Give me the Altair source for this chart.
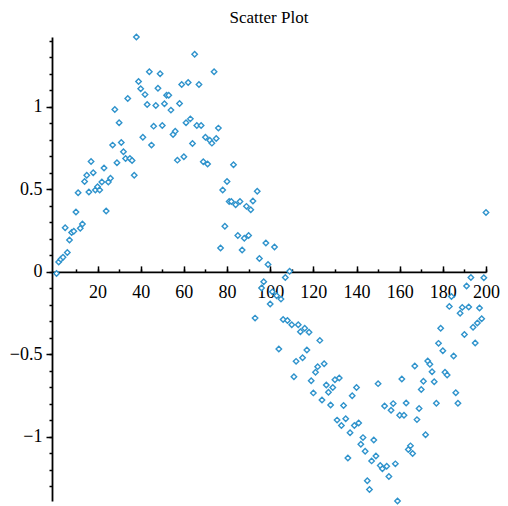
import altair as alt
import pandas as pd

# x positions (index of each sample)
x_idx = list(range(1, 201))

# y values
y_vals = [
    -0.01, 0.06, 0.077, 0.089, 0.268, 0.117, 0.193, 0.238, 0.246, 0.363,
    0.48, 0.264, 0.29, 0.548, 0.585, 0.484, 0.669, 0.6, 0.496, 0.516,
    0.496, 0.544, 0.629, 0.369, 0.544, 0.567, 0.768, 0.984, 0.661, 0.903,
    0.784, 0.728, 0.687, 1.05, 0.687, 0.675, 0.585, 1.423, 1.153, 1.109,
    0.816, 1.074, 1.014, 1.213, 0.768, 0.883, 1.008, 1.112, 1.2, 0.887,
    1.018, 1.07, 1.07, 0.98, 0.832, 0.852, 0.677, 1.02, 1.135, 0.698,
    0.903, 1.147, 0.927, 0.778, 1.318, 0.887, 1.135, 0.887, 0.667, 0.816,
    0.653, 0.798, 0.78, 1.213, 0.808, 0.871, 0.145, 0.496, 0.276, 0.548,
    0.426, 0.426, 0.649, 0.407, 0.22, 0.427, 0.133, 0.204, 0.397, 0.22,
    0.377, 0.429, -0.28, 0.488, 0.081, -0.097, -0.06, 0.175, 0.045, -0.195,
    -0.121, 0.151, -0.145, -0.467, -0.165, -0.288, -0.034, -0.294, 0.004, -0.32,
    -0.635, -0.542, -0.32, -0.363, -0.52, -0.342, -0.473, -0.366, -0.659, -0.733,
    -0.608, -0.574, -0.415, -0.776, -0.556, -0.685, -0.729, -0.806, -0.701, -0.653,
    -0.898, -0.643, -0.931, -0.81, -0.89, -1.128, -0.975, -0.75, -0.931, -0.701,
    -0.915, -1.044, -1.004, -1.086, -1.265, -1.318, -1.145, -1.018, -1.116, -0.677,
    -1.173, -1.193, -0.812, -1.177, -1.239, -0.838, -0.798, -1.163, -1.388, -0.868,
    -0.649, -0.868, -0.794, -1.076, -1.054, -1.1, -0.57, -0.895, -0.828, -0.713,
    -0.663, -0.987, -0.54, -0.56, -0.605, -0.665, -0.796, -0.433, -0.342, -0.478,
    -0.608, -0.625, -0.209, -0.149, -0.51, -0.732, -0.796, -0.25, -0.215, -0.379,
    -0.085, -0.213, -0.034, -0.336, -0.431, -0.31, -0.219, -0.284, -0.036, 0.36,
]

x_major_ticks = [20, 40, 60, 80, 100, 120, 140, 160, 180, 200]
x_minor_ticks = [10, 20, 30, 40, 50, 60, 70, 80, 90, 100, 110, 120, 130, 140, 150,
                 160, 170, 180, 190, 200]
y_major_ticks = [-1, -0.5, 0, 0.5, 1]
y_minor_ticks = [-1.3, -1.2, -1.1, -1.0, -0.9, -0.8, -0.7, -0.6, -0.5, -0.4, -0.3,
                 -0.2, -0.1, 0.0, 0.1, 0.2, 0.3, 0.4, 0.5, 0.6, 0.7, 0.8, 0.9,
                 1.0, 1.1, 1.2, 1.3, 1.4]

df = pd.DataFrame({"x": x_idx, "y": y_vals})

X_DOMAIN = [-1.1, 200]
Y_DOMAIN = [min(y_vals), max(y_vals)]
W, H = 434, 464
y0_px = H * Y_DOMAIN[1] / (Y_DOMAIN[1] - Y_DOMAIN[0])

FONT = "Liberation Serif"
MARK_COLOR = "#2f93cc"

xs = alt.Scale(domain=X_DOMAIN, nice=False, zero=False)
ys = alt.Scale(domain=Y_DOMAIN, nice=False, zero=False)

common_axis = dict(grid=False, title=None, domainColor="black", tickColor="black",
                   labelColor="black", labelFont=FONT, labelFontSize=18,
                   labelFlush=False, labelOverlap=False)

xa_minor = alt.Axis(orient="top", values=x_minor_ticks, tickSize=3, tickWidth=1.5,
                    labels=False, domain=True, domainWidth=1.8,
                    offset=-y0_px, **common_axis)
xa_major = alt.Axis(orient="top", values=x_major_ticks, tickSize=6, tickWidth=1.5,
                    labels=False, domain=False, offset=-y0_px, **common_axis)
xa_labels = alt.Axis(orient="bottom", values=x_major_ticks, ticks=False, domain=False,
                     labelPadding=12, format="d", offset=-(H - y0_px), **common_axis)

ya_minor = alt.Axis(orient="left", values=y_minor_ticks, tickSize=3, tickWidth=1.5,
                    labels=False, domain=True, domainWidth=1.8, **common_axis)
ya_major = alt.Axis(orient="left", values=y_major_ticks, tickSize=6, tickWidth=1.5,
                    labels=True, labelPadding=4, format="~g", domain=False,
                    **common_axis)

base = alt.Chart(df)


def layer(xaxis, yaxis, visible):
    m = base.mark_point(shape="diamond", filled=True, fill="white",
                        stroke=MARK_COLOR, strokeWidth=1.4, size=30,
                        opacity=1 if visible else 0)
    return m.encode(
        x=alt.X("x:Q", scale=xs, axis=xaxis),
        y=alt.Y("y:Q", scale=ys, axis=yaxis),
    )


chart = alt.layer(
    layer(xa_labels, None, False),
    layer(xa_major, ya_major, False),
    layer(xa_minor, ya_minor, True),
).resolve_axis(x="independent", y="independent").properties(
    width=W,
    height=H,
    autosize=alt.AutoSizeParams(type="none"),
    padding={"left": 44, "top": 29, "right": 14, "bottom": 5},
    title=alt.TitleParams("Scatter Plot", font=FONT, fontSize=17,
                          fontWeight="normal", anchor="middle", offset=4,
                          color="black"),
).configure_view(stroke=None)

chart.save("out.html", embed_options={"renderer": "svg", "actions": False})
